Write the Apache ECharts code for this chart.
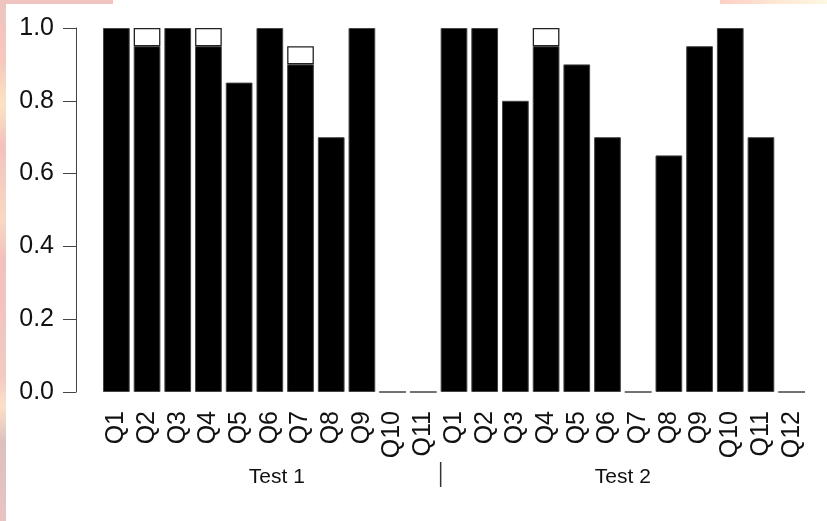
<!DOCTYPE html>
<html><head><meta charset="utf-8">
<script src="https://cdn.jsdelivr.net/npm/echarts@6/dist/echarts.min.js"></script>
<style>html,body{margin:0;padding:0;background:#fff}#c{width:827px;height:521px}</style>
</head><body><div id="c"></div>
<script>
const test1Labels = ['Q1','Q2','Q3','Q4','Q5','Q6','Q7','Q8','Q9','Q10','Q11'];
const test2Labels = ['Q1','Q2','Q3','Q4','Q5','Q6','Q7','Q8','Q9','Q10','Q11','Q12'];
const test1Correct = [1.0, 0.95, 1.0, 0.95, 0.85, 1.0, 0.90, 0.70, 1.0, 0, 0];
const test1Extra   = [null, 0.05, null, 0.05, null, null, 0.05, null, null, null, null];
const test2Correct = [1.0, 1.0, 0.80, 0.95, 0.90, 0.70, 0, 0.65, 0.95, 1.0, 0.70, 0];
const test2Extra   = [null, null, null, 0.05, null, null, null, null, null, null, null, null];
const groupNames = ['Test 1', 'Test 2'];
const yMin = 0, yMax = 1.0, yStep = 0.2;

const FONT = '"Liberation Sans", Arial, Helvetica, sans-serif';
const labels = test1Labels.concat(test2Labels);
const correct = test1Correct.concat(test2Correct);
const extra = test1Extra.concat(test2Extra);

const chart = echarts.init(document.getElementById('c'), null, {renderer: 'canvas'});
const option = {
  backgroundColor: '#ffffff',
  animation: false,
  grid: {left: 101, right: 20, top: 28, bottom: 129, containLabel: false},
  xAxis: {
    type: 'category',
    data: labels,
    axisLine: {show: false},
    axisTick: {show: false},
    axisLabel: {rotate: 90, margin: 19, color: '#111', fontFamily: FONT, fontSize: 25, interval: 0}
  },
  yAxis: {
    type: 'value', min: yMin, max: yMax, interval: yStep,
    offset: 25,
    splitLine: {show: false},
    axisLine: {show: true, lineStyle: {color: '#444', width: 1}},
    axisTick: {show: true, length: 13, lineStyle: {color: '#444', width: 1}},
    axisLabel: {margin: 22, color: '#111', fontFamily: FONT, fontSize: 25,
      padding: [4, 0, 0, 0],
      formatter: v => v.toFixed(1)}
  },
  series: [
    {type: 'bar', stack: 's', data: correct, barCategoryGap: '13%',
     itemStyle: {color: '#000', borderColor: '#444', borderWidth: 1}},
    {type: 'bar', stack: 's', data: extra,
     itemStyle: {color: '#fff', borderColor: '#222', borderWidth: 1.3}}
  ]
};
chart.setOption(option);

function xOf(i){ return chart.convertToPixel({xAxisIndex: 0}, i); }
const n1 = test1Labels.length, n = labels.length;
const c1 = (xOf(0) + xOf(n1 - 1)) / 2 + 7;
const c2 = (xOf(n1) + xOf(n - 1)) / 2;
const sep = (xOf(n1 - 1) + xOf(n1)) / 2;

chart.setOption({
  graphic: [
    {type: 'rect', silent: true, z: 100, shape: {x: 0, y: 0, width: 6, height: 521},
     style: {fill: new echarts.graphic.LinearGradient(0, 0, 0, 1, [
       {offset: 0, color: '#efc3c0'}, {offset: 0.12, color: '#f6c9bd'},
       {offset: 0.2, color: '#fbe3c3'}, {offset: 0.28, color: '#f2c2bd'},
       {offset: 0.42, color: '#f8d8c3'}, {offset: 0.5, color: '#f1c1bd'},
       {offset: 0.72, color: '#f3c9c2'}, {offset: 0.78, color: '#fbe0c8'},
       {offset: 0.85, color: '#dcc0c0'}, {offset: 1, color: '#e8c4c2'}])}},
    {type: 'rect', silent: true, z: 100, shape: {x: 0, y: 0, width: 113, height: 4},
     style: {fill: '#efc4c0'}},
    {type: 'rect', silent: true, z: 100, shape: {x: 720, y: 0, width: 107, height: 4},
     style: {fill: new echarts.graphic.LinearGradient(0, 0, 1, 0, [
       {offset: 0, color: '#fdcfc6'}, {offset: 0.5, color: '#fde6d2'}, {offset: 1, color: '#fdf7e2'}])}},
    {type: 'text', silent: true, x: c1, y: 477,
     style: {text: groupNames[0], fontFamily: FONT, fontSize: 21, fill: '#111', align: 'center', verticalAlign: 'middle'}},
    {type: 'text', silent: true, x: c2, y: 477,
     style: {text: groupNames[1], fontFamily: FONT, fontSize: 21, fill: '#111', align: 'center', verticalAlign: 'middle'}},
    {type: 'line', silent: true, shape: {x1: sep + 2, y1: 462, x2: sep + 2, y2: 487},
     style: {stroke: '#333', lineWidth: 1.5}}
  ]
});
</script></body></html>
